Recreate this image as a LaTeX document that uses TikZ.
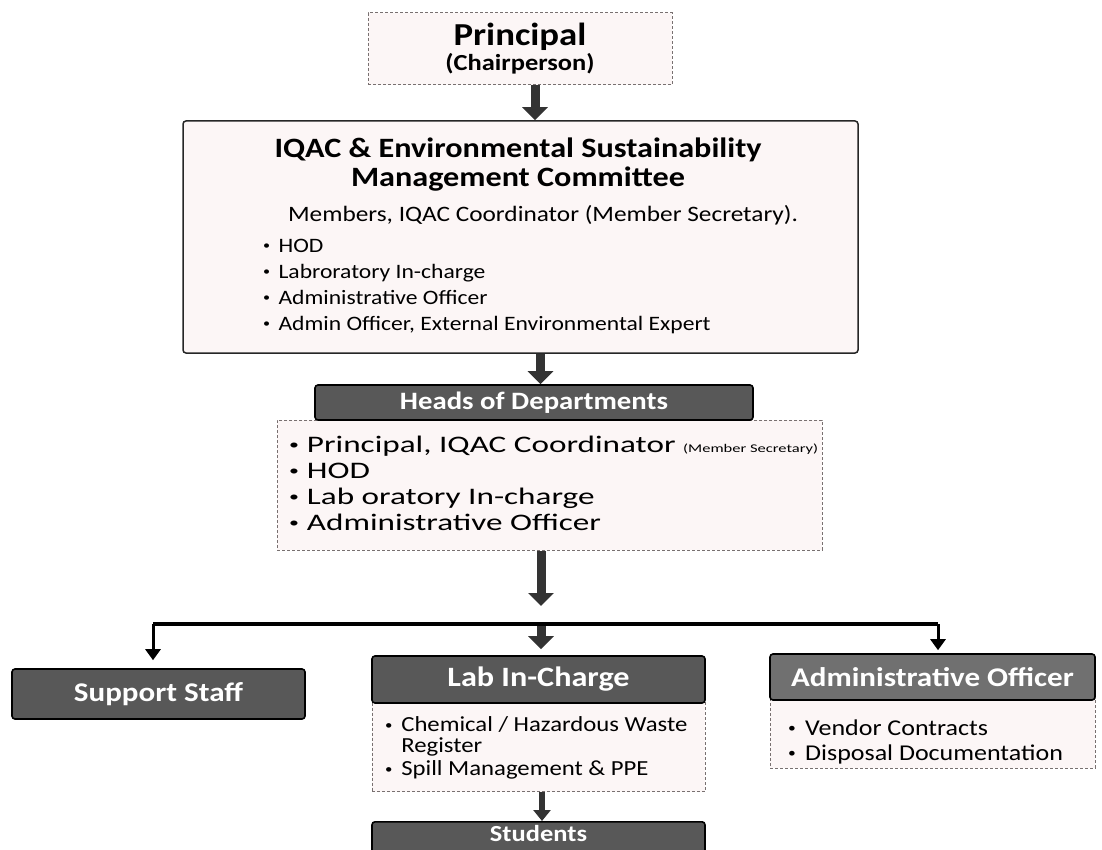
\documentclass[tikz,border=0pt]{standalone}
\usepackage{graphicx}
\usepackage{fontspec}
\setmainfont{Carlito}[FakeStretch=1.15]
\newfontfamily\widefont{Carlito}[FakeStretch=1.4]
\usetikzlibrary{arrows.meta}

\definecolor{plate}{RGB}{88,88,88}
\definecolor{plateb}{RGB}{112,112,112}
\definecolor{paper}{RGB}{252,246,246}
\definecolor{rim}{RGB}{120,112,112}

\newcommand{\fsz}[2]{\fontsize{#1}{#2}\selectfont}
\newcommand{\itm}{\makebox[0.75em][l]{\raisebox{0.12em}{\scalebox{0.6}{\textbullet}}}}

\tikzset{
  paperbox/.style={draw=rim, densely dashed, fill=paper, line width=1pt},
  platebox/.style={draw=black, fill=plate, line width=1.6pt, rounded corners=3pt, text=white},
  fatarrow/.style={draw=black!80, line width=9pt, -{Triangle[width=25pt,length=13pt]}},
  slimarrow/.style={draw=black, line width=3pt, -{Triangle[width=15pt,length=11pt]}},
  listtext/.style={anchor=west, inner sep=0pt, align=left},
}

\begin{document}
\begin{tikzpicture}[x=1pt,y=-1pt]
  \useasboundingbox (0,0) rectangle (1102,850);
  \clip (0,0) rectangle (1102,850);

  \node[paperbox, minimum width=304pt, minimum height=72pt, align=center] (principal) at (520,49)
    {\fsz{32}{32}\bfseries Principal\\[2pt]\fsz{23}{24}\bfseries (Chairperson)};

  \node[paperbox, solid, draw=black!85, line width=1.5pt, rounded corners=3pt,
    minimum width=675pt, minimum height=232pt] (iqac) at (520.5,237) {};
  \node[align=center, font=\fsz{28}{29}\bfseries] (iqactitle) at (518,165)
    {IQAC \& Environmental Sustainability\\Management Committee};
  \node[font=\fsz{22}{26}] (iqacmembers) at (543,215) {Members, IQAC Coordinator (Member Secretary).};
  \node[listtext, font=\fsz{20.5}{26}] (iqacroles) at (263,286)
    {\itm HOD\\\itm Labroratory In-charge\\\itm Administrative Officer\\\itm Admin Officer, External Environmental Expert};

  \node[paperbox, minimum width=545pt, minimum height=130pt] (hodbox) at (549.5,485) {};
  \node[platebox, minimum width=438pt, minimum height=35pt, font=\fsz{25}{30}\bfseries] (hodhead) at (534,402.5)
    {Heads of Departments};
  \node[listtext, font=\widefont\fsz{23.7}{26}] (hodroles) at (289,483)
    {\itm Principal, IQAC Coordinator {\fsz{11.8}{12}(Member Secretary)}\\\itm HOD\\\itm Lab oratory In-charge\\\itm Administrative Officer};

  \node[platebox, minimum width=293pt, minimum height=50pt, font=\fsz{27}{30}\bfseries] (support) at (158.5,694)
    {Support Staff};

  \node[paperbox, minimum width=333pt, minimum height=89pt] (labbox) at (538.5,747) {};
  \node[platebox, minimum width=333pt, minimum height=47pt, font=\fsz{28}{30}\bfseries] (lab) at (538.5,679.5)
    {Lab In-Charge};
  \node[listtext, font=\fsz{21.5}{21}] (labduties) at (385,748)
    {\itm Chemical / Hazardous Waste\\\hspace*{0.75em}Register\\[2pt]\itm Spill Management \& PPE};

  \node[paperbox, minimum width=325pt, minimum height=70pt] (adminbox) at (932.5,733) {};
  \node[platebox, fill=plateb, minimum width=325pt, minimum height=46pt, font=\fsz{27}{30}\bfseries] (admin) at (932.5,677)
    {Administrative Officer};
  \node[listtext, font=\fsz{22.6}{25}] (admintasks) at (788,742)
    {\itm Vendor Contracts\\\itm Disposal Documentation};

  \node[platebox, anchor=north, minimum width=333pt, inner ysep=4pt, text depth=14pt,
    font=\fsz{23}{28}\bfseries] (students) at (538.5,821)
    {Students};

  \coordinate (hub) at (541,624);
  \coordinate (hubwest) at (153,624);
  \coordinate (hubeast) at (938,624);

  \draw[fatarrow] ([xshift=15pt]principal.south) -- ([xshift=15pt]principal.south |- iqac.north);
  \draw[fatarrow] ([xshift=20pt]iqac.south) -- ([xshift=20pt]iqac.south |- hodhead.north);
  \draw[fatarrow] (hub |- hodbox.south) -- ([yshift=18pt]hub);
  \draw[line width=3.5pt] (hubwest) -- (hubeast);
  \draw[slimarrow, shorten >=8pt] (hubwest) -- (hubwest |- support.north);
  \draw[slimarrow, shorten >=3pt] (hubeast) -- (hubeast |- admin.north);
  \draw[fatarrow, shorten >=6pt] ([yshift=-2pt]hub) -- (hub |- lab.north);
  \draw[fatarrow, line width=6pt, -{Triangle[width=17pt,length=11pt]}]
    ([xshift=3.5pt]labbox.south) -- ([xshift=3.5pt]labbox.south |- students.north);
\end{tikzpicture}
\end{document}
